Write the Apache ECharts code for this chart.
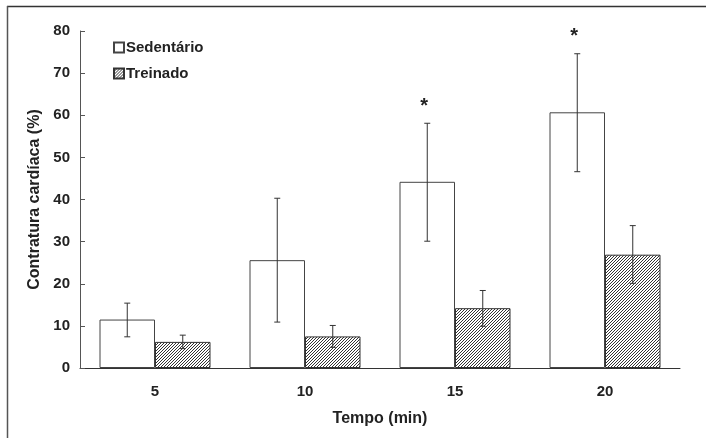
<!DOCTYPE html>
<html>
<head>
<meta charset="utf-8">
<script src="https://cdn.jsdelivr.net/npm/echarts@6/dist/echarts.min.js"></script>
<style>
  html, body { margin: 0; padding: 0; background: #fff; }
</style>
</head>
<body>
<div id="chart" style="width: 706px; height: 438px"></div>
<script>
const categories = ["5", "10", "15", "20"];
const sedentario = [11.5, 25.6, 44.2, 60.7];
const sedLow = [7.4, 10.9, 30.1, 46.6];
const sedHigh = [15.4, 40.3, 58.1, 74.6];
const treinado = [6.2, 7.5, 14.2, 26.9];
const treLow = [4.6, 4.9, 9.9, 20.1];
const treHigh = [7.8, 10.1, 18.4, 33.8];
const signif = ["", "", "*", "*"];

const font = "'Liberation Sans', Arial, sans-serif";

// hachura diagonal para "Treinado"
function hatch() {
  const c = document.createElement("canvas");
  c.width = 3;
  c.height = 3;
  const g = c.getContext("2d");
  g.fillStyle = "#fff";
  g.fillRect(0, 0, 3, 3);
  g.strokeStyle = "#333";
  g.lineWidth = 1;
  g.beginPath();
  g.moveTo(0, 3); g.lineTo(3, 0);
  g.moveTo(-1, 1); g.lineTo(1, -1);
  g.moveTo(2, 4); g.lineTo(4, 2);
  g.stroke();
  return c;
}

function errorBars(side, marks) {
  return function (params, api) {
    const i = api.value(0);
    const lo = api.coord([i, api.value(1)]);
    const hi = api.coord([i, api.value(2)]);
    const band = api.size([1, 0])[0];
    const x = lo[0] + side * band * 0.185;
    const st = { stroke: "#333", lineWidth: 1 };
    const kids = [
      { type: "line", shape: { x1: x, y1: lo[1], x2: x, y2: hi[1] }, style: st },
      { type: "line", shape: { x1: x - 3, y1: lo[1], x2: x + 3, y2: lo[1] }, style: st },
      { type: "line", shape: { x1: x - 3, y1: hi[1], x2: x + 3, y2: hi[1] }, style: st },
    ];
    if (marks && marks[i]) {
      kids.push({
        type: "text",
        style: {
          x: x - 3, y: hi[1] - 17, text: marks[i],
          fill: "#222", font: "bold 20px " + font,
          align: "center", verticalAlign: "middle",
        },
      });
    }
    return { type: "group", children: kids };
  };
}

const chart = echarts.init(document.getElementById("chart"));
const option = {
  animation: false,
  backgroundColor: "#fff",
  textStyle: { fontFamily: font },
  graphic: [
    { type: "line", shape: { x1: 7, y1: 6.5, x2: 706, y2: 6.5 }, style: { stroke: "#333", lineWidth: 1.5 } },
    { type: "line", shape: { x1: 7.5, y1: 6, x2: 7.5, y2: 438 }, style: { stroke: "#555", lineWidth: 1.5 } },
  ],
  grid: { left: 80, right: 26, top: 31, bottom: 70 },
  legend: {
    orient: "vertical",
    left: 108,
    top: 35,
    itemWidth: 10,
    itemHeight: 10,
    itemGap: 11,
    icon: "rect",
    textStyle: { fontFamily: font, fontWeight: "bold", fontSize: 15, color: "#222", padding: [0, 0, 0, -3] },
    data: ["Sedentário", "Treinado"],
  },
  xAxis: {
    type: "category",
    data: categories,
    name: "Tempo (min)",
    nameLocation: "middle",
    nameGap: 43,
    nameTextStyle: { fontFamily: font, fontWeight: "bold", fontSize: 16, color: "#222" },
    axisLine: { lineStyle: { color: "#333", width: 1 } },
    axisTick: { inside: true, length: 5, lineStyle: { color: "#555" } },
    axisLabel: { margin: 16, fontFamily: font, fontWeight: "bold", fontSize: 15, color: "#222" },
  },
  yAxis: {
    type: "value",
    min: 0,
    max: 80,
    interval: 10,
    name: "Contratura cardíaca (%)",
    nameLocation: "middle",
    nameGap: 36,
    nameTextStyle: { fontFamily: font, fontWeight: "bold", fontSize: 16, color: "#222" },
    axisLine: { show: true, lineStyle: { color: "#555", width: 1 } },
    axisTick: { show: true, inside: true, length: 5, lineStyle: { color: "#555" } },
    axisLabel: { margin: 10, fontFamily: font, fontWeight: "bold", fontSize: 15, color: "#222" },
    splitLine: { show: false },
  },
  series: [
    {
      name: "Sedentário",
      type: "bar",
      data: sedentario,
      barWidth: "37%",
      barGap: "0%",
      itemStyle: { color: "#fff", borderColor: "#444", borderWidth: 1 },
    },
    {
      name: "Treinado",
      type: "bar",
      data: treinado,
      barWidth: "37%",
      itemStyle: { color: { image: hatch(), repeat: "repeat" }, borderColor: "#333", borderWidth: 1 },
    },
    {
      type: "custom",
      z: 10,
      renderItem: errorBars(-1, signif),
      encode: { x: 0, y: [1, 2] },
      data: categories.map((c, i) => [i, sedLow[i], sedHigh[i]]),
    },
    {
      type: "custom",
      z: 10,
      renderItem: errorBars(1, null),
      encode: { x: 0, y: [1, 2] },
      data: categories.map((c, i) => [i, treLow[i], treHigh[i]]),
    },
  ],
};
chart.setOption(option);
</script>
</body>
</html>
